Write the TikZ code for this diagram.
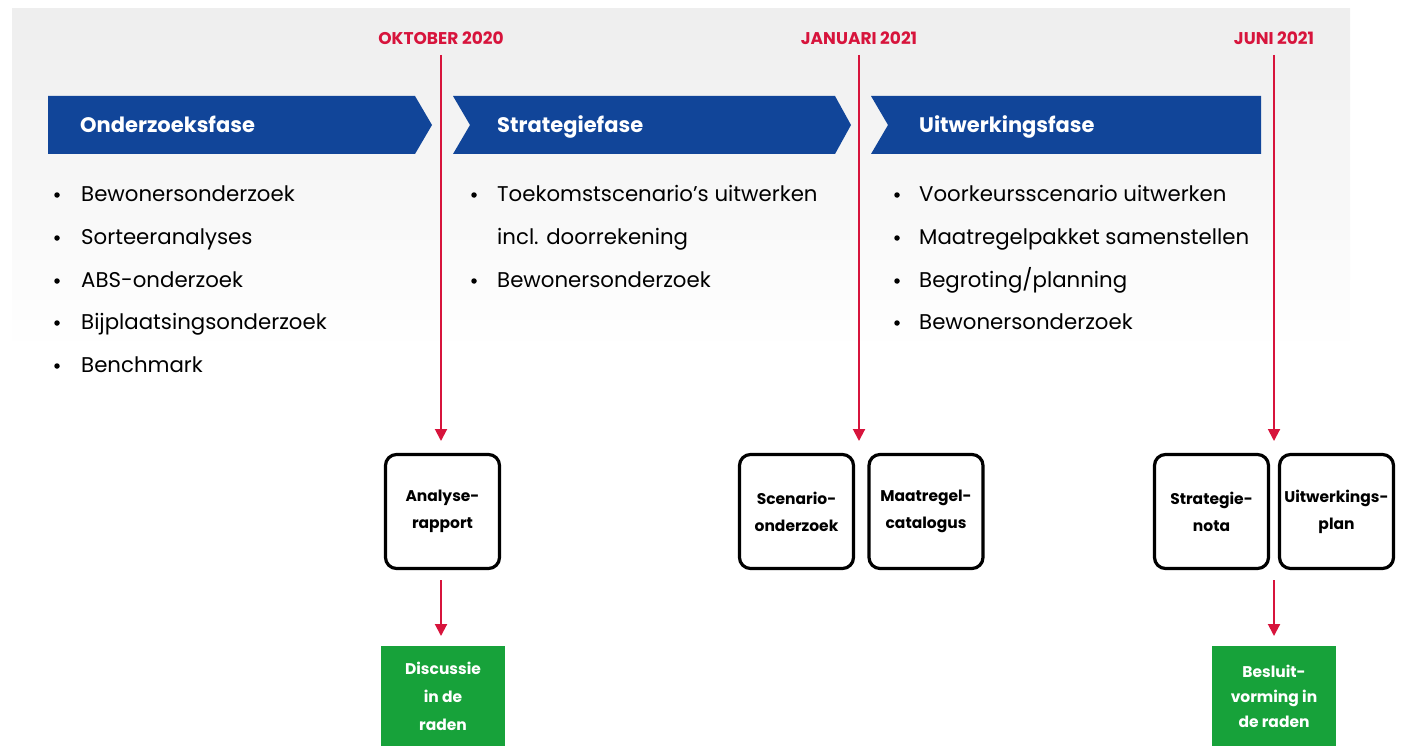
\documentclass[tikz,border=0pt]{standalone}
\usepackage{fontspec}
\setmainfont{Poppins}
\usetikzlibrary{arrows.meta}
\definecolor{phaseblue}{HTML}{114599}
\definecolor{milered}{HTML}{D7143C}
\definecolor{decgreen}{HTML}{17A23A}
\definecolor{bggray}{HTML}{EEEEEE}
\tikzset{
  x=1pt, y=-1pt,
  phase/.style={fill=phaseblue},
  phasetxt/.style={anchor=base west, text=white, font=\fontsize{21}{25}\selectfont\bfseries, inner sep=0},
  item/.style={anchor=base west, font=\fontsize{21.3}{25}\selectfont, inner sep=0},
  bul/.style={circle, fill=black, inner sep=0, minimum size=5.5pt},
  datelbl/.style={text=milered, font=\fontsize{17}{20}\selectfont\bfseries, inner sep=0},
  redarrow/.style={draw=milered, line width=2pt, -{Triangle[width=12pt,length=12pt]}, color=milered},
  product/.style={draw=black, line width=3.2pt, rounded corners=11pt, minimum width=114pt, minimum height=114pt, align=center, font=\fontsize{15.5}{27}\selectfont\bfseries, inner sep=0},
  decision/.style={fill=decgreen, text=white, minimum width=124pt, minimum height=100pt, align=center, inner sep=0, anchor=north},
}
\begin{document}
\begin{tikzpicture}
\useasboundingbox (0,0) rectangle (1404,746);
% background
\shade[top color=bggray, bottom color=white, shading angle=0] (12,9) rectangle (1350,350);
% chevrons
\fill[phase] (48,96) -- (415,96) -- (432,125) -- (415,154) -- (48,154) -- cycle;
\fill[phase] (453,96) -- (835,96) -- (851,125) -- (835,154) -- (453,154) -- (470,125) -- cycle;
\fill[phase] (871,96) -- (1261,96) -- (1261,154) -- (871,154) -- (888,125) -- cycle;
\node[phasetxt] (p1) at (80,133) {Onderzoeksfase};
\node[phasetxt] (p2) at (497,133) {Strategiefase};
\node[phasetxt] (p3) at (919,133) {Uitwerkingsfase};
% bullets column 1
\foreach \y/\t [count=\i] in {201/Bewonersonderzoek,244/Sorteeranalyses,287/ABS-onderzoek,329/Bijplaatsingsonderzoek,372/Benchmark}{
  \node[bul] (ba\i) at (57,\y-6) {};
  \node[item] (ia\i) at (81,\y) {\t};
}
% column 2
\node[bul] (bb1) at (474,195) {};
\node[item] (ib1) at (497,201) {Toekomstscenario’s uitwerken};
\node[item] (ib1b) at (497,244) {incl. doorrekening};
\node[bul] (bb2) at (474,281) {};
\node[item] (ib2) at (497,287) {Bewonersonderzoek};
% column 3
\foreach \y/\t [count=\i] in {201/{Voorkeursscenario uitwerken},244/{Maatregelpakket samenstellen},287/{Begroting/planning},329/{Bewonersonderzoek}}{
  \node[bul] (bc\i) at (897,\y-6) {};
  \node[item] (ic\i) at (919,\y) {\t};
}
% dates
\node[datelbl] (d1) at (441,38) {OKTOBER 2020};
\node[datelbl] (d2) at (859,38) {JANUARI 2021};
\node[datelbl] (d3) at (1274,38) {JUNI 2021};
\coordinate (d1s) at (441,55);
\coordinate (d2s) at (859,55);
\coordinate (d3s) at (1274,55);
\coordinate (d1e) at (441,441);
\coordinate (d2e) at (859,441);
\coordinate (d3e) at (1274,441);
% products
\node[product] (ana) at (442.5,511.5) {Analyse-\\rapport};
\node[product] (sce) at (796.5,511.5) {Scenario-\\onderzoek};
\node[product] (maa) at (926,511.5) {Maatregel-\\catalogus};
\node[product] (str) at (1211.5,511.5) {Strategie-\\nota};
\node[product] (uit) at (1336.5,511.5) {Uitwerkings-\\plan};
% decisions
\node[decision, font=\fontsize{15.5}{28}\selectfont\bfseries] (dis) at (443,646) {Discussie\\in de\\raden};
\node[decision, font=\fontsize{15.5}{25}\selectfont\bfseries] (bes) at (1274,646) {Besluit-\\vorming in\\de raden};
% arrows
\draw[redarrow] (d1s) -- (d1e);
\draw[redarrow] (d2s) -- (d2e);
\draw[redarrow] (d3s) -- (d3e);
\coordinate (a1s) at (441,580);
\coordinate (a3s) at (1274,580);
\draw[redarrow, shorten >=10pt] (a1s) -- (a1s |- dis.north);
\draw[redarrow, shorten >=10pt] (a3s) -- (a3s |- bes.north);
\end{tikzpicture}
\end{document}
